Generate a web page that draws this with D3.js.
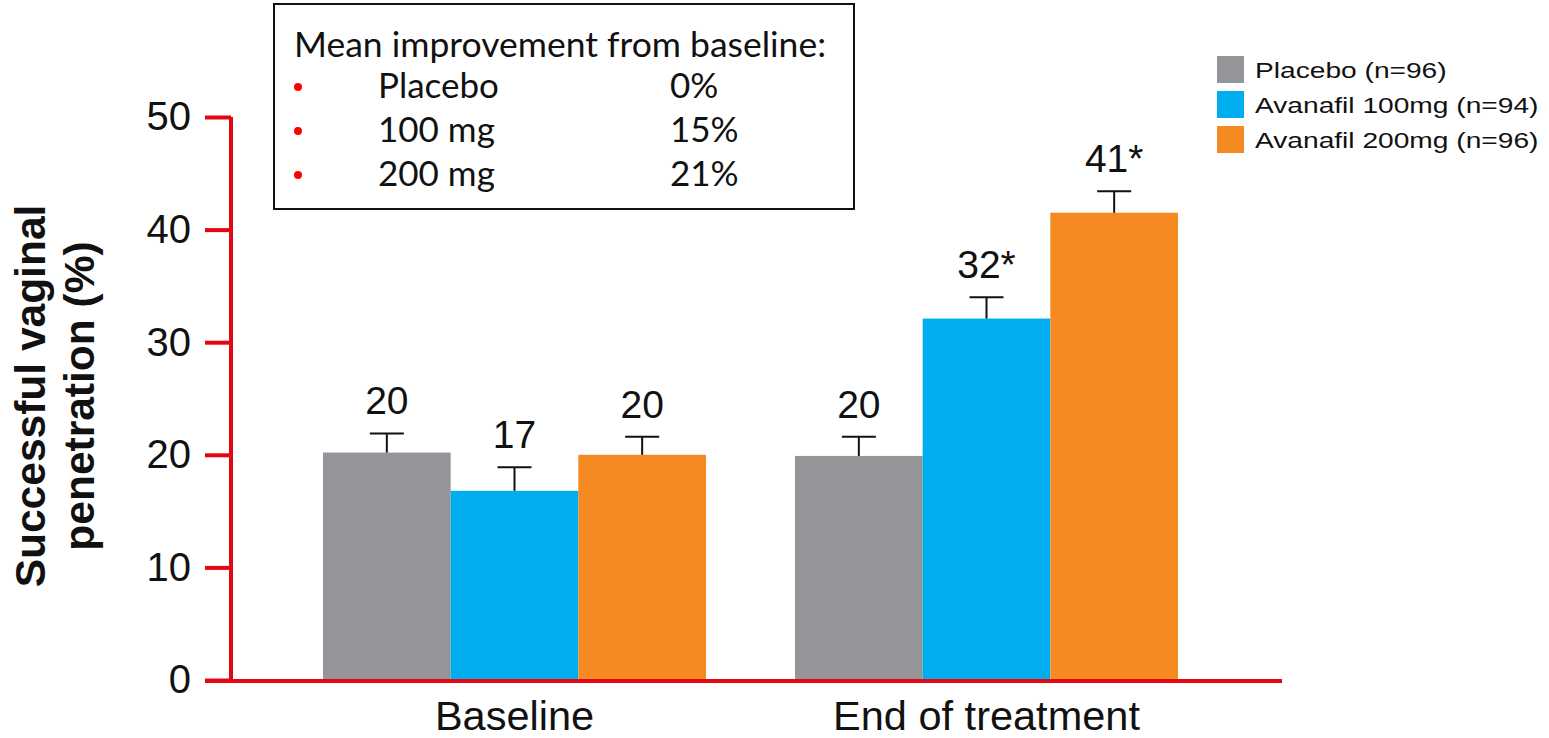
<!DOCTYPE html>
<html><head><meta charset="utf-8">
<script src="https://cdn.jsdelivr.net/npm/d3@7"></script>
<style>body{margin:0;background:#fff}svg{display:block}</style>
</head><body>
<svg id="c" width="1549" height="738"></svg>
<script>
const groups = ["Baseline", "End of treatment"];
const series = ["Placebo (n=96)", "Avanafil 100mg (n=94)", "Avanafil 200mg (n=96)"];
const colors = ["#939598", "#00AEEF", "#F58A22"];
const values = [[20.2, 16.8, 20.0], [19.9, 32.1, 41.5]];
const errors = [[1.7, 2.1, 1.6], [1.7, 1.9, 1.9]];
const labels = [["20", "17", "20"], ["20", "32*", "41*"]];
const yTicks = [0, 10, 20, 30, 40, 50];
const boxTitle = "Mean improvement from baseline:";
const boxRows = ["Placebo", "100 mg", "200 mg"];
const boxVals = ["0%", "15%", "21%"];

const svg = d3.select("#c");
const arial = "Liberation Sans, Arial, sans-serif";
const calibri = "Lato, sans-serif";
const y = d3.scaleLinear().domain([0, 50]).range([680, 117]);
const x0 = d3.scaleBand().domain(groups).range([323, 1178]).paddingInner(0.1886).paddingOuter(0);
const x1 = d3.scaleBand().domain(series).range([0, x0.bandwidth()]);
const red = "#E30613";

// bars
groups.forEach((g, gi) => {
  series.forEach((s, si) => {
    const v = values[gi][si], e = errors[gi][si];
    const bx = x0(g) + x1(s), bw = x1.bandwidth(), cx = bx + bw / 2;
    svg.append("rect").attr("x", bx).attr("y", y(v)).attr("width", bw).attr("height", y(0) - y(v)).attr("fill", colors[si]);
    svg.append("line").attr("x1", cx).attr("x2", cx).attr("y1", y(v)).attr("y2", y(v + e)).attr("stroke", "#111").attr("stroke-width", 2);
    svg.append("line").attr("x1", cx - 17).attr("x2", cx + 17).attr("y1", y(v + e)).attr("y2", y(v + e)).attr("stroke", "#111").attr("stroke-width", 2);
    svg.append("text").attr("x", cx).attr("y", y(v + e) - 19).attr("text-anchor", "middle")
      .attr("font-family", arial).attr("font-size", 39).attr("fill", "#111").text(labels[gi][si]);
  });
});

// y axis
const yAxis = d3.axisLeft(y).tickValues(yTicks).tickSize(26).tickPadding(14);
const ga = svg.append("g").attr("transform", "translate(231,0)").call(yAxis);
ga.select(".domain").attr("stroke", red).attr("stroke-width", 4).attr("d", `M0,${y(50)}V${y(0)}`);
ga.selectAll(".tick line").attr("stroke", red).attr("stroke-width", 4);
ga.selectAll(".tick text").attr("font-family", arial).attr("font-size", 40).attr("fill", "#111");
// x baseline
svg.append("line").attr("x1", 205).attr("x2", 1282).attr("y1", y(0) + 1).attr("y2", y(0) + 1).attr("stroke", red).attr("stroke-width", 4);

// x labels
const xAxis = d3.axisBottom(x0).tickSize(0).tickPadding(0);
const gx = svg.append("g").attr("transform", `translate(0,${y(0)})`).call(xAxis);
gx.select(".domain").remove();
gx.selectAll(".tick text").attr("dy", 0).attr("y", 50).attr("font-family", arial).attr("font-size", 41.5).attr("fill", "#111");

// y title
const yt = svg.append("text").attr("transform", "translate(0,396) rotate(-90)").attr("text-anchor", "middle")
  .attr("font-family", arial).attr("font-weight", "bold").attr("font-size", 42.5).attr("fill", "#111");
yt.append("tspan").attr("x", 0).attr("y", 45).text("Successful vaginal");
yt.append("tspan").attr("x", 0).attr("y", 94).text("penetration (%)");

// text box
svg.append("rect").attr("x", 274).attr("y", 4).attr("width", 580).attr("height", 205).attr("fill", "#fff").attr("stroke", "#111").attr("stroke-width", 2);
svg.append("text").attr("x", 294).attr("y", 57).attr("font-family", calibri).attr("font-size", 35.5).attr("fill", "#111").text(boxTitle);
boxRows.forEach((r, i) => {
  const by = 98 + i * 44;
  svg.append("circle").attr("cx", 298).attr("cy", by - 11).attr("r", 4).attr("fill", "#FF0000");
  svg.append("text").attr("x", 378).attr("y", by).attr("font-family", calibri).attr("font-size", 35).attr("fill", "#111").text(r);
  svg.append("text").attr("x", 670).attr("y", by).attr("font-family", calibri).attr("font-size", 35).attr("fill", "#111").text(boxVals[i]);
});

// legend
series.forEach((s, i) => {
  const ly = 56 + i * 35;
  svg.append("rect").attr("x", 1217).attr("y", ly).attr("width", 27).attr("height", 27).attr("fill", colors[i]);
  svg.append("text").attr("transform", `translate(1255,${ly + 22}) scale(1.28,1)`)
    .attr("font-family", arial).attr("font-size", 22).attr("fill", "#111").text(s);
});
</script>
</body></html>
